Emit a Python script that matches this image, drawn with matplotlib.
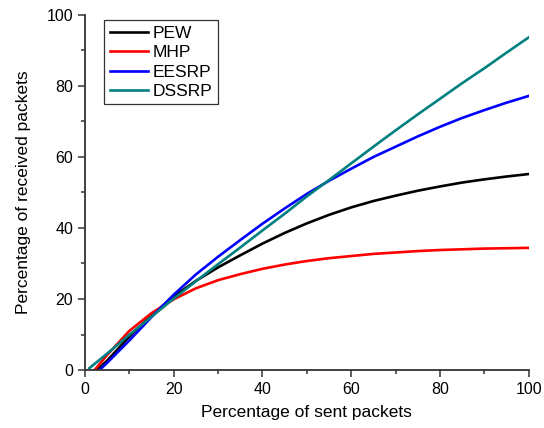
import matplotlib.pyplot as plt
from matplotlib.ticker import MultipleLocator

plt.rcParams['font.family'] = ['Liberation Sans', 'DejaVu Sans']

# values
x_pew = [2.7, 5, 10, 15, 20, 25, 30, 35, 40, 45, 50, 55, 60, 65, 70, 75, 80, 85, 90, 95, 100]
y_pew = [0, 2.6, 9.4, 15.4, 20.7, 25.1, 28.9, 32.3, 35.6, 38.6, 41.3, 43.7, 45.8, 47.6, 49.1, 50.5, 51.7, 52.8, 53.7, 54.5, 55.2]

x_mhp = [2.2, 5, 10, 15, 20, 25, 30, 35, 40, 45, 50, 55, 60, 65, 70, 75, 80, 85, 90, 95, 100]
y_mhp = [0, 4.2, 11.0, 16.0, 19.9, 23.0, 25.3, 27.0, 28.5, 29.7, 30.7, 31.5, 32.1, 32.7, 33.1, 33.5, 33.8, 34.0, 34.2, 34.3, 34.4]

x_eesrp = [3.3, 5, 10, 15, 20, 25, 30, 35, 40, 45, 50, 55, 60, 65, 70, 75, 80, 85, 90, 95, 100]
y_eesrp = [0, 2.0, 8.3, 14.9, 21.2, 26.9, 31.9, 36.6, 41.2, 45.5, 49.6, 53.3, 56.7, 60.0, 62.9, 65.8, 68.5, 71.0, 73.2, 75.3, 77.2]

x_dssrp = [1, 5, 10, 15, 20, 25, 30, 35, 40, 45, 50, 55, 60, 65, 70, 75, 80, 85, 90, 95, 100]
y_dssrp = [0.5, 4.6, 9.9, 15.0, 20.1, 25.0, 29.8, 34.5, 39.3, 44.0, 48.9, 53.5, 58.2, 62.9, 67.5, 72.0, 76.4, 80.8, 85.0, 89.4, 93.7]

fig = plt.figure(figsize=(5.44, 4.28), dpi=100)
ax = fig.add_axes([0.156, 0.1355, 0.816, 0.8295])

lw = 1.9
ax.plot(x_pew, y_pew, color='black', lw=lw, label='PEW')
ax.plot(x_mhp, y_mhp, color='red', lw=lw, label='MHP')
ax.plot(x_eesrp, y_eesrp, color='blue', lw=lw, label='EESRP')
ax.plot(x_dssrp, y_dssrp, color='#008080', lw=lw, label='DSSRP')

ax.set_xlim(0, 100)
ax.set_ylim(0, 100)
ax.xaxis.set_major_locator(MultipleLocator(20))
ax.xaxis.set_minor_locator(MultipleLocator(10))
ax.yaxis.set_major_locator(MultipleLocator(20))
ax.yaxis.set_minor_locator(MultipleLocator(10))

for side in ['top', 'right']:
    ax.spines[side].set_visible(False)
for side in ['left', 'bottom']:
    ax.spines[side].set_color('#333333')
    ax.spines[side].set_linewidth(1.3)

ax.tick_params(which='major', direction='out', length=5, width=1.1, color='#333333', labelsize=11.5)
ax.tick_params(which='minor', direction='out', length=3, width=1.1, color='#333333')

ax.set_xlabel('Percentage of sent packets', fontsize=12.5, labelpad=6)
ax.set_ylabel('Percentage of received packets', fontsize=12.5, labelpad=11)

leg = ax.legend(loc='upper left', bbox_to_anchor=(0.04, 0.99), fontsize=12.5,
                frameon=True, fancybox=False, handlelength=2.2, handletextpad=0.3,
                borderpad=0.3, labelspacing=0.25, borderaxespad=0.1)
leg.get_frame().set_edgecolor('black')
leg.get_frame().set_linewidth(0.9)

plt.savefig('out.png', dpi=100)
